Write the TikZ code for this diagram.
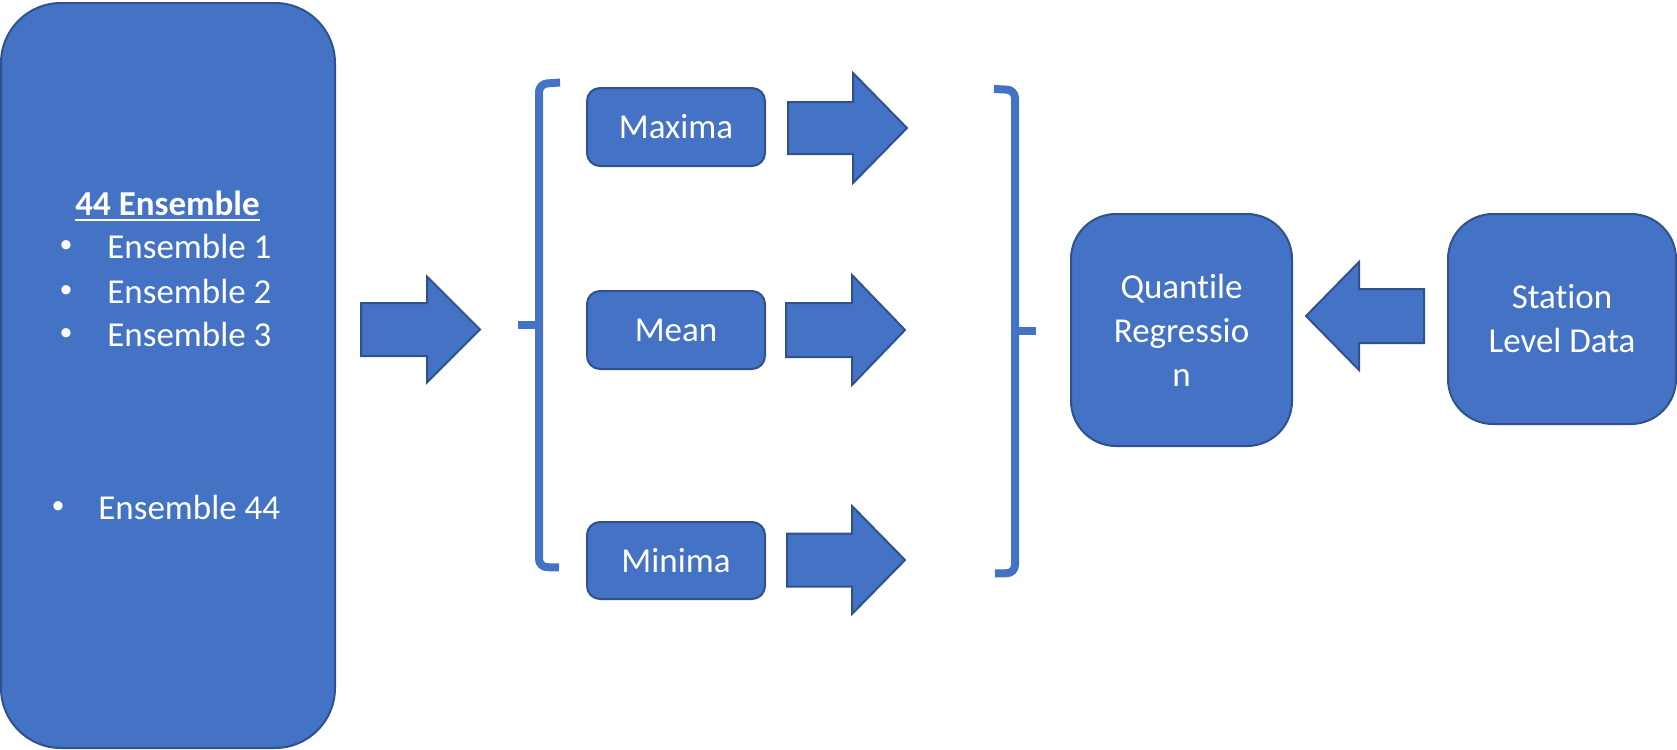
\documentclass[tikz,border=0pt]{standalone}
\usepackage{fontspec}
\setmainfont{Carlito}[Ligatures=NoCommon]
\definecolor{boxblue}{HTML}{4472C4}
\definecolor{edgeblue}{HTML}{2F528F}
% block arrow: tail x, head base x, tip x, centre y, half shaft, half head
\newcommand\blockarr[6]{%
  \draw[blockarrow] (#1,#4-#5) -- (#2,#4-#5) -- (#2,#4-#6) -- (#3,#4)
    -- (#2,#4+#6) -- (#2,#4+#5) -- (#1,#4+#5) -- cycle;}
\begin{document}
\begin{tikzpicture}[x=0.5pt,y=-0.5pt,
  txt/.style={font=\fontsize{17.5pt}{22pt}\selectfont, text=white, inner sep=0pt},
  dot/.style={font=\fontsize{13pt}{16pt}\selectfont, text=white, inner sep=0pt},
  block/.style={draw=edgeblue, fill=boxblue, line width=1pt, rounded corners=#1,
    inner sep=0pt, align=center, txt},
  blockarrow/.style={draw=edgeblue, fill=boxblue, line width=1pt, line join=miter},
  brace/.style={draw=boxblue, line width=4pt, rounded corners=4pt}]
\useasboundingbox (0,0) rectangle (1677,750);

% ensemble column
\node[block=30pt, minimum width=167pt, minimum height=372.5pt] (ens) at (168,375.5) {};
\node[txt, anchor=base] (title) at (167.5,215) {\bfseries 44 Ensemble};
\draw[white, line width=1pt] ([yshift=-2.5pt]title.base west) -- ([yshift=-2.5pt]title.base east);
\node[dot] (b1) at (66,247) {•};
\node[txt, anchor=base west] (e1) at (107,258) {Ensemble 1};
\node[dot] (b2) at (66,292) {•};
\node[txt, anchor=base west] (e2) at (107,303) {Ensemble 2};
\node[dot] (b3) at (66,335) {•};
\node[txt, anchor=base west] (e3) at (107,346) {Ensemble 3};
\node[dot] (b44) at (58,508) {•};
\node[txt, anchor=base west] (e44) at (98,519) {Ensemble 44};

% statistics
\node[block=6.5pt, minimum width=89pt, minimum height=39pt] (max) at (676,127) {Maxima};
\node[block=6.5pt, minimum width=89pt, minimum height=39pt] (mean) at (676,330) {Mean};
\node[block=6.5pt, minimum width=89pt, minimum height=38.5pt] (min) at (676,560.5) {Minima};

% regression and station data
\node[block=22.5pt, minimum width=110.5pt, minimum height=116pt] (qr) at (1181.5,330) {Quantile\\Regressio\\n};
\node[block=22.5pt, minimum width=114pt, minimum height=105pt] (st) at (1562,319) {Station\\Level Data};

% block arrows
\blockarr{361}{427}{480}{329.5}{26.5}{53}
\blockarr{788}{853}{907}{128}{26}{55}
\blockarr{786}{852}{905}{330}{27}{55}
\blockarr{787}{852}{905}{560}{26.5}{54}
\blockarr{1424}{1359}{1306}{316}{27}{54}

% brackets
\draw[brace] (560,82.5) -- (539,84) -- (539,567) -- (559,567.5);
\draw[brace, rounded corners=0pt] (539,325) -- (518,325);
\draw[brace] (994,89) -- (1015,90) -- (1015,573) -- (995,573.5);
\draw[brace, rounded corners=0pt] (1015,331) -- (1036,331);
\end{tikzpicture}
\end{document}
